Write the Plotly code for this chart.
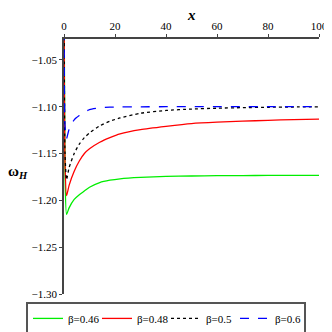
import plotly.graph_objects as go

# ------------------------------------------------------------
# data (x, omega_H for each beta)
# ------------------------------------------------------------
x_vals = [0.05, 0.4, 1, 2, 4, 6, 8, 10, 14, 18, 22, 30, 40, 50, 60, 70, 80, 90, 100]

w_046 = [-1.00, -1.17, -1.215, -1.208, -1.199, -1.194, -1.190, -1.186, -1.181, -1.1785, -1.177,
         -1.1755, -1.1745, -1.174, -1.1737, -1.1735, -1.1734, -1.1733, -1.1733]
w_048 = [-1.00, -1.16, -1.195, -1.184, -1.169, -1.158, -1.150, -1.145, -1.138, -1.133, -1.129,
         -1.1245, -1.121, -1.118, -1.1165, -1.1155, -1.1145, -1.1138, -1.1132]
w_05 = [-1.00, -1.15, -1.178, -1.165, -1.150, -1.140, -1.133, -1.128, -1.1205, -1.1155, -1.112,
        -1.107, -1.104, -1.1025, -1.1016, -1.1010, -1.1006, -1.1003, -1.1001]
w_06 = [-1.00, -1.12, -1.134, -1.124, -1.114, -1.1095, -1.106, -1.103, -1.1012, -1.1005, -1.1002,
        -1.1001, -1.1, -1.1, -1.1, -1.1, -1.1, -1.1, -1.1]

series = [
    ("β=0.46", w_046, "#00ee00", "solid"),
    ("β=0.48", w_048, "#ff0000", "solid"),
    ("β=0.5", w_05, "#000000", "dot"),
    ("β=0.6", w_06, "#0000ff", "dash"),
]

fig = go.Figure()
for name, yv, col, dash in series:
    fig.add_trace(go.Scatter(x=x_vals, y=yv, mode="lines", name=name,
                             line=dict(color=col, width=1.3, dash=dash, shape="spline", smoothing=0.6)))

font = "Times New Roman, Liberation Serif, serif"

# page body has an 8px margin, so the figure is sized/offset to compensate
fig.update_layout(
    width=324, height=324,
    margin=dict(l=56, r=13, t=31, b=38, autoexpand=False),
    paper_bgcolor="white", plot_bgcolor="white",
    font=dict(family=font, size=11, color="black"),
    showlegend=True,
    legend=dict(orientation="h", x=-0.149, xanchor="left",
                y=-0.031, yanchor="top",
                bordercolor="#555555", borderwidth=2, font=dict(family=font, size=11),
                itemwidth=30, entrywidth=24, tracegroupgap=0),
    xaxis=dict(side="top", range=[0, 100], tickvals=[0, 20, 40, 60, 80, 100],
               showgrid=False, zeroline=False, showline=True, linecolor="#444444", linewidth=1.5,
               ticks="outside", ticklen=3, tickcolor="#444444",
               tickfont=dict(family=font, size=11)),
    yaxis=dict(range=[-1.30, -1.0277], tickvals=[-1.05, -1.10, -1.15, -1.20, -1.25, -1.30],
               tickformat=".2f", showgrid=False, zeroline=False, showline=True,
               linecolor="#444444", linewidth=1.5, ticks="outside", ticklen=3,
               tickcolor="#444444", tickfont=dict(family=font, size=11)),
    annotations=[
        dict(text="<b><i>x</i></b>", xref="paper", yref="paper", x=0.5, y=1.0,
             yanchor="middle", yshift=24, showarrow=False, font=dict(family=font, size=15)),
        dict(text="<b>ω</b><sub><b><i>H</i></b></sub>", xref="paper", yref="paper",
             x=0, xanchor="center", xshift=-46, y=0.48, yanchor="middle", showarrow=False,
             font=dict(family=font, size=15)),
    ],
)

fig.write_html("out.html")
